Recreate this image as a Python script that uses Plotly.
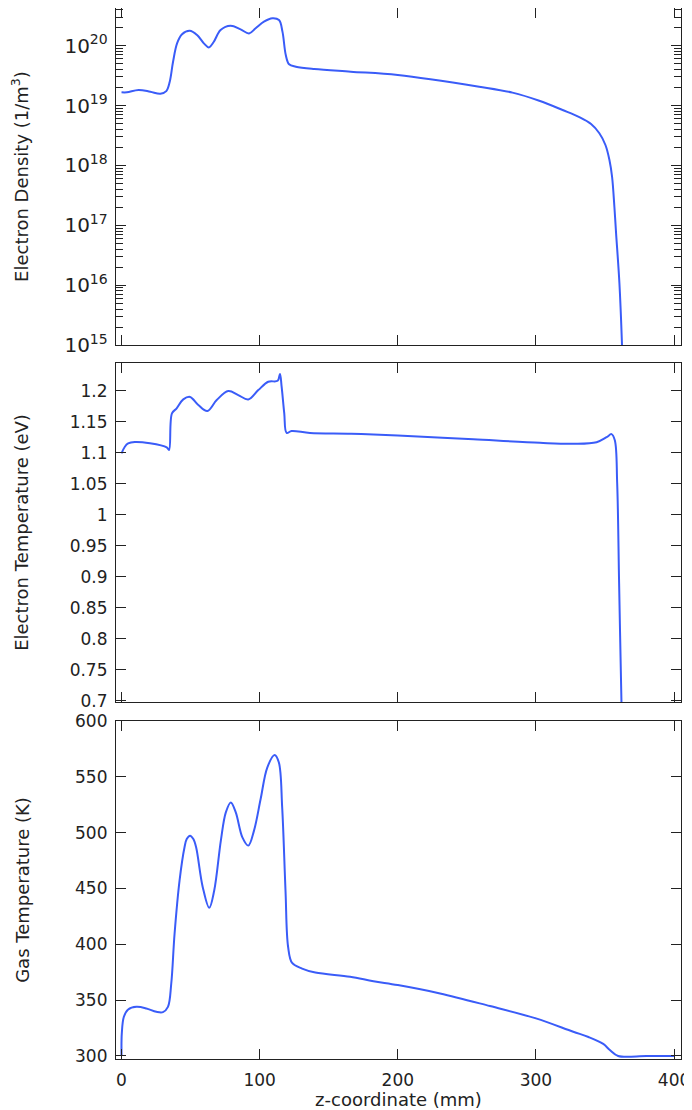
import plotly.graph_objects as go

# ---------------- data ----------------
z_ne = [0, 3.9, 12.3, 20.8, 28.1, 32.4, 34.9, 37.3, 40.2, 43.8, 49.4, 54.7, 59.6, 63.2, 66.8,
        71.7, 78.9, 86.2, 92.3, 97.1, 103.1, 109.2, 114, 116.5, 118.9, 121.3, 126.2, 139.5,
        165.9, 200, 258.9, 283, 302.4, 319.3, 331.4, 339.9, 345.9, 350.3, 353.2, 355.1, 356.8,
        358, 360.4, 362.3, 363.5]
ne = [1.66e19, 1.66e19, 1.82e19, 1.70e19, 1.57e19, 1.74e19, 2.49e19, 5.37e19, 1.09e20, 1.55e20,
      1.77e20, 1.50e20, 1.09e20, 9.33e19, 1.16e20, 1.82e20, 2.15e20, 1.87e20, 1.60e20, 1.95e20,
      2.51e20, 2.86e20, 2.67e20, 1.71e20, 6.97e19, 4.88e19, 4.45e19, 4.06e19, 3.67e19, 3.24e19,
      2.06e19, 1.64e19, 1.20e19, 8.41e18, 6.40e18, 4.90e18, 3.44e18, 2.19e18, 1.23e18,
      6.46e17, 2.0e17, 7.4e16, 1.1e16, 1.0e15, 1.0e14]

z_te = [0, 2.4, 4.8, 9.6, 20.6, 32.7, 34.4, 36.5, 39.9, 44.7, 49.6, 55.6, 62.1, 68.9, 77.3,
        84.5, 91.8, 99, 106.2, 113, 114.7, 115.9, 117.8, 119.5, 123.1, 136.4, 166.3, 200,
        254.7, 302.9, 327, 343.9, 351.1, 354.7, 357.1, 358.8, 360.2, 361.9, 363]
te = [1.099, 1.1097, 1.115, 1.1173, 1.1152, 1.1087, 1.1044, 1.1635, 1.1716, 1.186, 1.190, 1.177,
      1.1673, 1.185, 1.1995, 1.193, 1.186, 1.201, 1.2145, 1.216, 1.227, 1.2065, 1.1635, 1.132,
      1.135, 1.132, 1.1308, 1.128, 1.1216, 1.116, 1.1145, 1.117, 1.125, 1.130, 1.12, 1.0507,
      0.8893, 0.698, 0.6]

z_tg = [0, 0.2, 1.7, 4.8, 10.8, 18, 25.2, 30, 33.6, 36, 38.4, 42, 45.6, 47.2, 49.6, 52, 54,
        58.8, 63.5, 67.1, 71.9, 75.5, 79.1, 82.7, 87.5, 91.8, 95.9, 100.7, 105.5, 110.8, 113.9,
        116.3, 118.7, 120.6, 123.5, 130.7, 140.3, 165.5, 182.4, 200, 230.6, 266.7, 300, 327,
        338, 348.7, 353.5, 359.5, 380, 400]
tg = [300.9, 320.2, 335.1, 341.7, 344, 342.6, 339.6, 339.3, 344, 364.9, 409.5, 457.1, 486.9,
      494.3, 497.3, 494.3, 486.9, 451.2, 432.7, 448.2, 492.9, 518.2, 527.1, 518.2, 495.8,
      488.4, 501.8, 530.1, 558.3, 569.6, 562.8, 522.6, 448.2, 397.6, 383.3, 378.3, 374.7,
      371, 367, 363.5, 356, 344.7, 333.7, 321.7, 317, 310.8, 305.3, 300, 300, 300]

x_ticks = [0, 100, 200, 300, 400]
ne_minor = [m * 10.0 ** e for e in range(14, 21) for m in range(2, 10)]
te_ticks = [0.7, 0.75, 0.8, 0.85, 0.9, 0.95, 1.0, 1.05, 1.1, 1.15, 1.2]
tg_ticks = [300, 350, 400, 450, 500, 550, 600]

# ---------------- figure ----------------
LINE = dict(color="#3a5cf8", width=2, shape="spline", smoothing=1.0)
TICKFONT = dict(family="DejaVu Sans", size=17, color="#222222")
LOGFONT = dict(family="DejaVu Sans", size=16, color="#222222")
TITLEFONT = dict(family="DejaVu Sans", size=18, color="#222222")

fig = go.Figure()
fig.add_trace(go.Scatter(x=z_ne, y=ne, mode="lines", line=LINE, xaxis="x", yaxis="y",
                         showlegend=False))
fig.add_trace(go.Scatter(x=z_te, y=te, mode="lines", line=LINE, xaxis="x2", yaxis="y2",
                         showlegend=False))
fig.add_trace(go.Scatter(x=z_tg, y=tg, mode="lines", line=LINE, xaxis="x3", yaxis="y3",
                         showlegend=False))
# empty traces so that the minor-tick overlay axes of the density panel are drawn
for ax in ("y4", "y5"):
    fig.add_trace(go.Scatter(x=[], y=[], mode="lines", xaxis="x", yaxis=ax,
                             showlegend=False, hoverinfo="skip"))

common_x = dict(range=[-4, 405], tickvals=x_ticks, ticks="inside", ticklen=10, tickwidth=1.2,
                tickcolor="#222", showline=True, linecolor="#222", linewidth=1.2,
                mirror="ticks", showgrid=False, zeroline=False, tickfont=TICKFONT,
                automargin=False)
common_y = dict(ticks="inside", ticklen=10, tickwidth=1.2, tickcolor="#222", showline=True,
                linecolor="#222", linewidth=1.2, mirror="ticks", showgrid=False,
                zeroline=False, tickfont=TICKFONT, ticklabelstandoff=4, automargin=False)

d_top = [0.6793, 1.0]
d_mid = [0.3397, 0.6622]
d_bot = [0.0, 0.3216]
ne_range = [15, 20.628]

minor_y = dict(overlaying="y", type="log", range=ne_range, tickmode="array",
               tickvals=ne_minor, ticks="inside", ticklen=7, tickwidth=1, tickcolor="#222",
               showticklabels=False, showline=False, showgrid=False, zeroline=False,
               automargin=False)

fig.update_layout(
    width=692, height=1110,
    margin=dict(l=108, r=19, t=0, b=59),
    paper_bgcolor="white", plot_bgcolor="white",
    font=TICKFONT,
    xaxis=dict(common_x, anchor="y", showticklabels=False, domain=[0, 1]),
    xaxis2=dict(common_x, anchor="y2", showticklabels=False, matches="x"),
    xaxis3=dict(common_x, anchor="y3", showticklabels=True, matches="x", ticklabelstandoff=5,
                title=dict(text="z-coordinate (mm)", font=TITLEFONT, standoff=0)),
    yaxis=dict(common_y, domain=d_top, anchor="x", type="log", range=ne_range,
               tick0=0, dtick=1, exponentformat="power", tickfont=LOGFONT,
               title=dict(text="Electron Density (1/m<sup>3</sup>)", font=TITLEFONT,
                          standoff=40)),
    # minor log ticks of the density axis, left and right sides
    yaxis4=dict(minor_y, side="left", anchor="x"),
    yaxis5=dict(minor_y, side="right", anchor="free", position=1.0),
    yaxis2=dict(common_y, domain=d_mid, anchor="x2", range=[0.698, 1.2447],
                tickvals=te_ticks,
                title=dict(text="Electron Temperature (eV)", font=TITLEFONT, standoff=36)),
    yaxis3=dict(common_y, domain=d_bot, anchor="x3", range=[297.3, 600],
                tickvals=tg_ticks,
                title=dict(text="Gas Temperature (K)", font=TITLEFONT, standoff=40)),
)

fig.write_html("out.html")
